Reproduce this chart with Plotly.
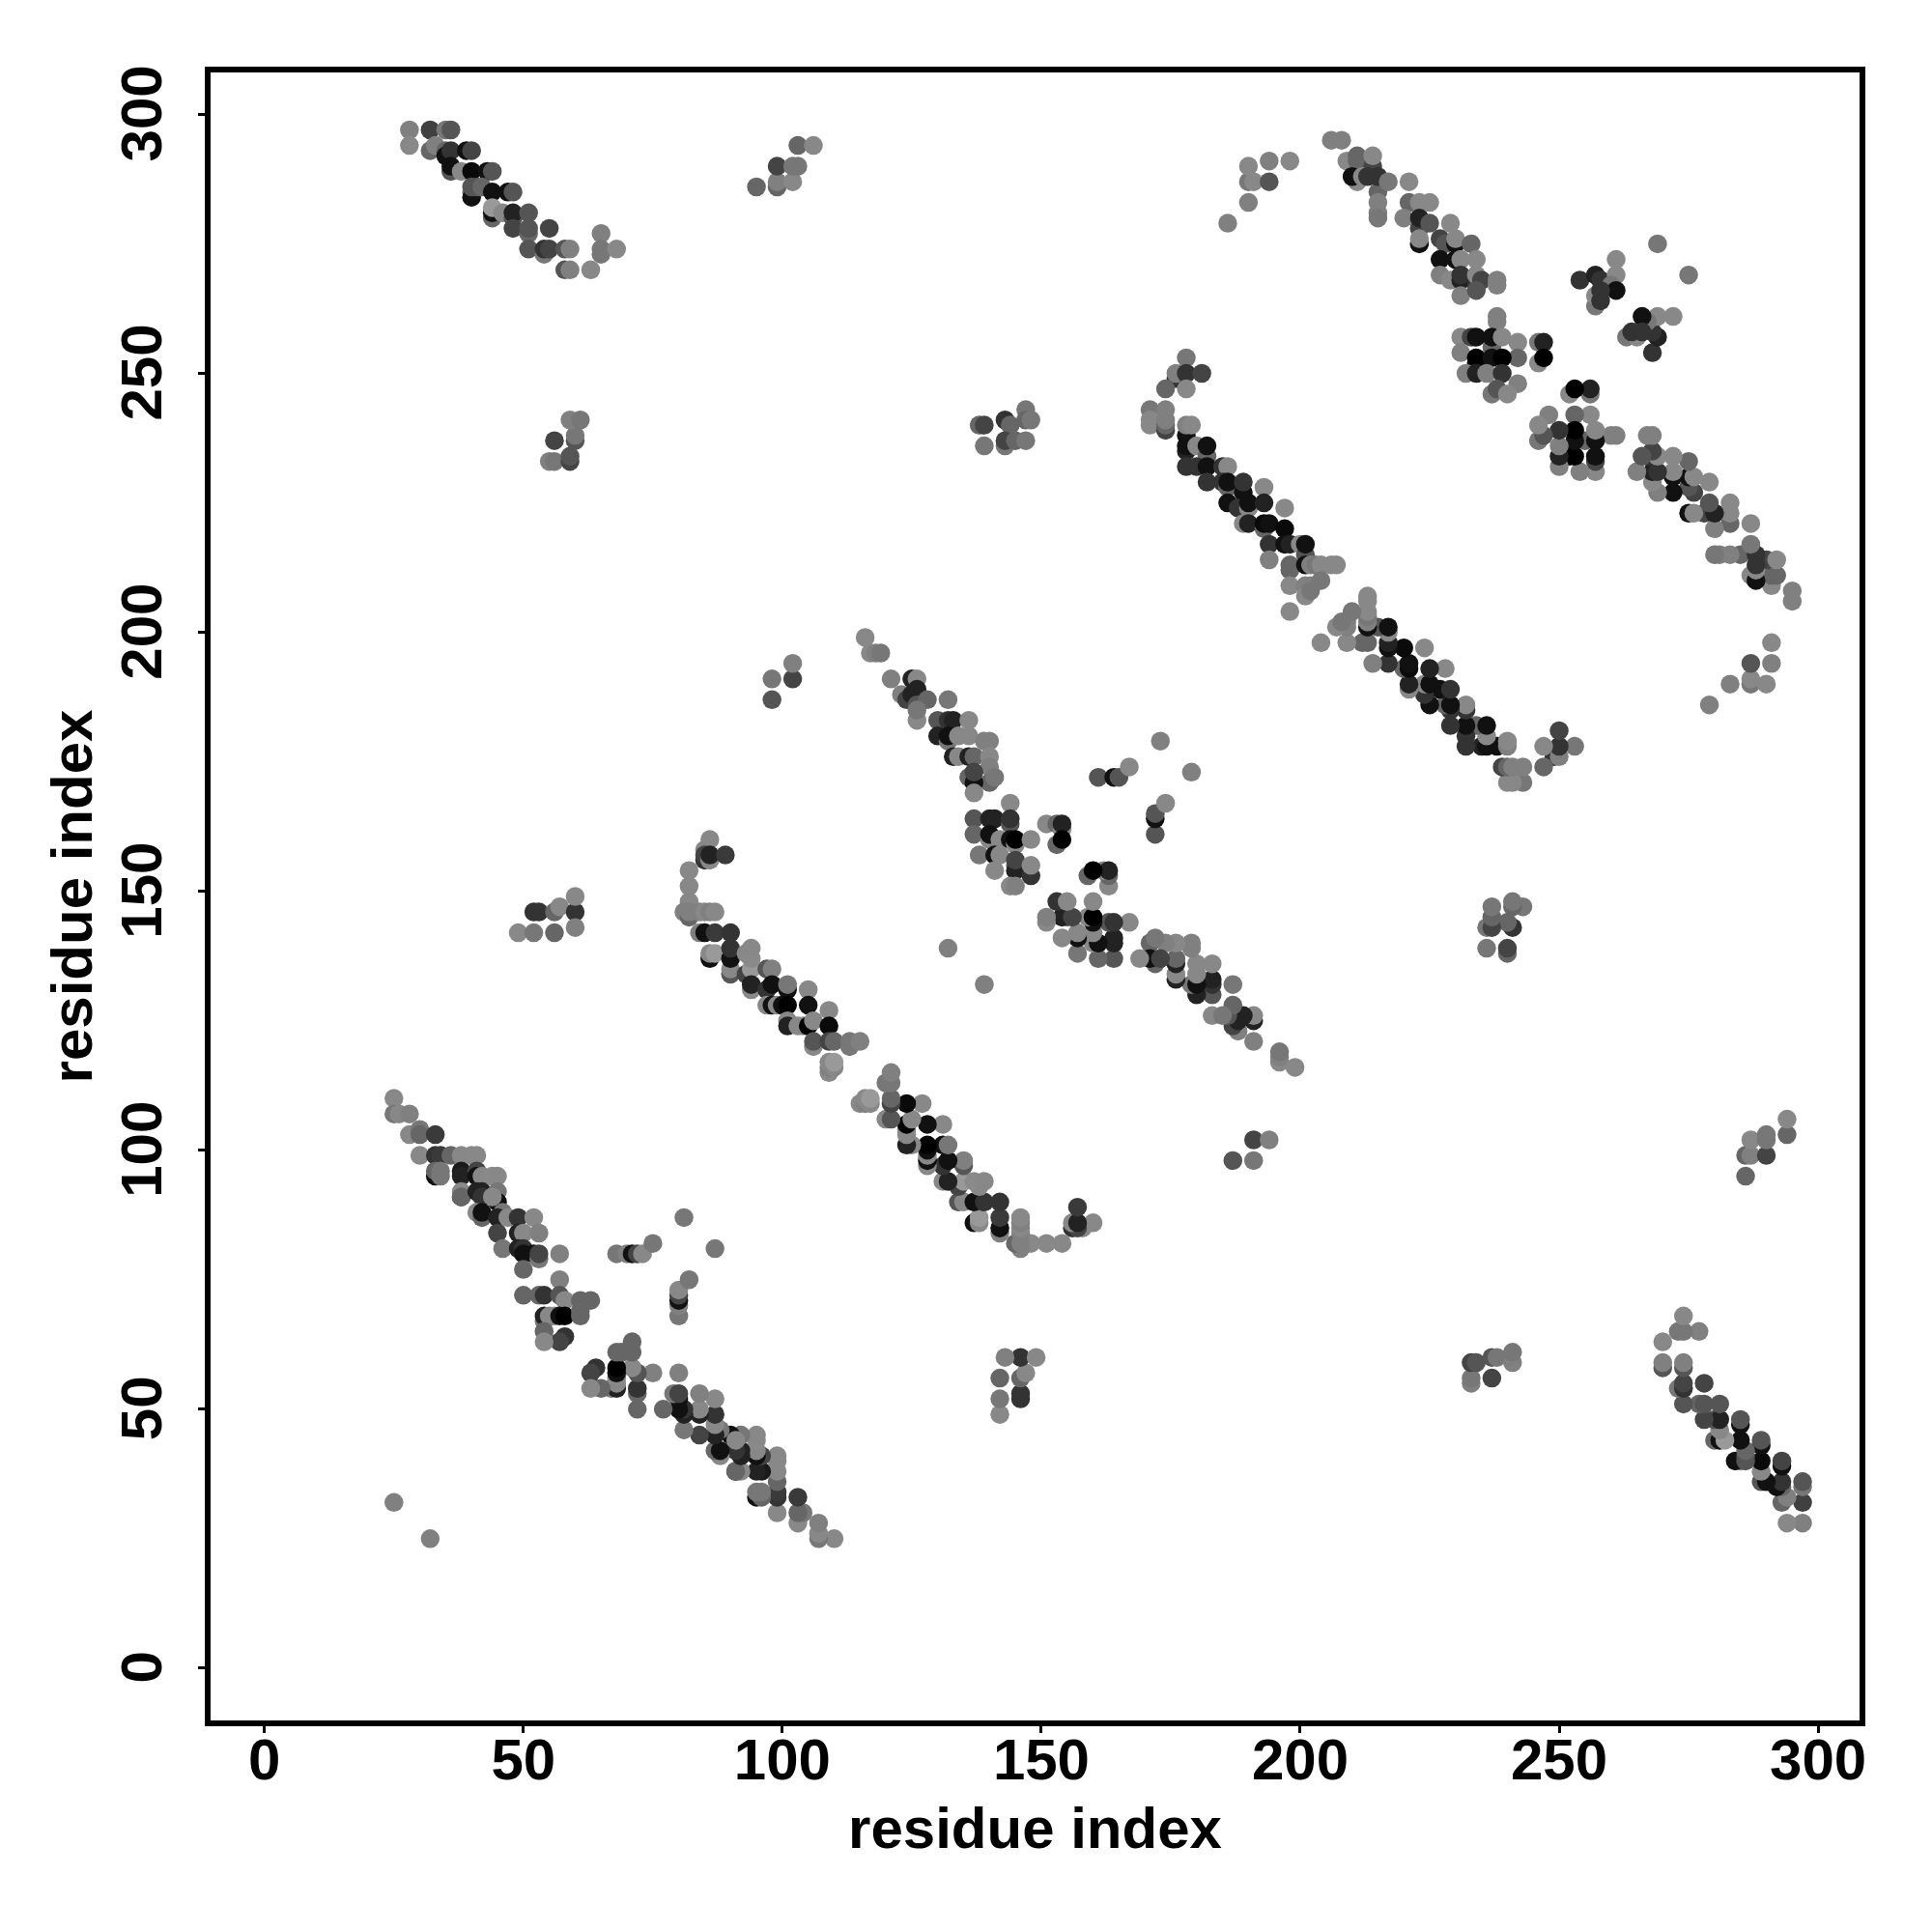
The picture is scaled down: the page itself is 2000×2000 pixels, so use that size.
import plotly.graph_objects as go

# contacts above the diagonal: (residue i, residue j, gray level); the map is symmetric
strand_a = [
    (25,32,0x80),
    (25,110,0x88),(25,107,0x77),(26,107,0x88),(28,107,0x80),(28,103,0x88),(30,104,0x77),(30,103,0x66),(33,103,0x3a),
    (30,99,0x88),(33,99,0x33),(34,99,0x3a),(36,99,0x66),(38,99,0x88),(40,99,0x88),(41,99,0x88),
    (33,95,0x11),(33,96,0x66),(34,96,0x77),(34,95,0x77),(38,96,0x1a),(38,95,0x22),(41,96,0x44),(41,95,0x11),
    (42,95,0x88),(44,95,0x8a),(45,95,0x88),(38,91,0x0a),(38,92,0x88),(38,91,0x66),(41,92,0x22),(42,92,0x22),
    (42,91,0x33),(45,92,0x77),(45,90,0x11),(44,91,0x88),(41,88,0x88),(42,87,0x66),(42,88,0x11),
    (46,88,0x77),(45,87,0x22),(47,87,0x88),(49,87,0x33),(52,87,0x88),(45,84,0x44),(49,84,0x22),(50,84,0x88),(53,84,0x80),
    (46,81,0x77),(49,81,0x22),(50,81,0x33),(50,80,0x11),(52,80,0x11),(53,79,0x77),(53,80,0x44),(57,80,0x80),(50,77,0x66),
    (68,80,0x77),(70,80,0x80),(71,80,0x11),(72,80,0x44),(73,80,0x88),(75,82,0x77),(81,87,0x77),
    (57,75,0x80),(50,72,0x66),(53,72,0x66),(54,72,0x33),(57,72,0x55),(58,71,0x88),(61,71,0x66),(63,71,0x66),
    (54,67,0x77),(54,68,0x22),(55,68,0x88),(56,68,0x88),(57,68,0x11),(58,68,0x00),(61,69,0x66),(61,68,0x66),
    (54,65,0x66),(58,64,0x33),(57,63,0x44),(54,63,0x88),
]
far_a = [
    (28,297,0x80),(28,294,0x88),(32,297,0x40),(32,293,0x66),(33,294,0x80),(35,297,0x77),(36,297,0x55),
    (35,293,0x66),(35,292,0x11),(36,293,0x33),(36,289,0x55),(36,290,0x11),(39,293,0x11),(40,293,0x44),
    (38,289,0x88),(40,289,0x0a),(43,289,0x11),(44,289,0x55),(40,285,0x77),(40,284,0x11),(40,286,0x55),(41,286,0x55),
    (42,286,0x66),(44,285,0x11),(47,285,0x11),(48,285,0x55),(44,280,0x66),(44,281,0x11),(44,282,0x99),(46,281,0x88),
    (48,280,0x55),(48,281,0x22),(51,281,0x55),(48,278,0x44),(51,277,0x66),(51,278,0x55),(55,278,0x44),
    (51,274,0x55),(54,273,0x77),(54,274,0x33),(55,274,0x44),(58,274,0x55),(59,274,0x80),
    (65,277,0x80),(65,273,0x77),(65,274,0x77),(68,274,0x88),(58,270,0x55),(59,270,0x80),(63,270,0x88),
    (95,286,0x66),(99,286,0x66),(99,287,0x80),(102,287,0x88),(99,290,0x44),(102,290,0x77),(103,290,0x77),(103,294,0x66),(106,294,0x88),
]
strand_b = [
    (86,160,0x88),(85,158,0x88),(85,156,0x33),(85,157,0x44),(86,156,0x88),(86,157,0x22),(89,157,0x3a),
    (82,154,0x88),(82,151,0x88),(82,148,0x88),(81,146,0x80),(82,145,0x66),(82,146,0x80),(84,146,0x80),(85,146,0x88),(86,146,0x80),(87,146,0x88),
    (84,142,0x80),(85,142,0x11),(87,142,0x3a),(90,142,0x33),(86,137,0x11),(86,138,0x88),(87,138,0x99),
    (90,134,0x55),(90,135,0x88),(90,137,0x11),(90,139,0x33),(93,134,0x44),(93,138,0x88),(94,135,0x99),(94,137,0x8a),(94,139,0x88),
    (97,135,0x55),(98,135,0x80),(94,131,0x88),(94,132,0x22),(97,131,0x33),(98,132,0x11),(101,131,0x11),(101,132,0x77),
    (97,128,0x88),(98,128,0x11),(99,128,0x88),(100,128,0x11),(101,128,0x00),(105,131,0x88),(105,128,0x11),
    (101,125,0x88),(101,124,0x22),(103,124,0x88),(104,124,0x88),(105,124,0x00),(106,125,0x88),(109,127,0x88),(109,124,0x0a),
    (106,120,0x88),(106,121,0x55),(109,121,0x44),(110,121,0x66),(113,120,0x77),(113,121,0x77),(115,121,0x80),
    (109,115,0x88),(109,116,0x80),(109,117,0x88),(110,116,0x88),(110,117,0x99),
    (132,139,0x80),
]
strand_c = [
    (116,199,0x88),(117,196,0x88),(118,196,0x80),(119,196,0x77),(121,191,0x80),(125,191,0x22),(126,191,0x88),
    (123,188,0x80),(124,187,0x44),(125,188,0x22),(126,189,0x22),(126,186,0x55),(128,187,0x66),(132,187,0x77),
    (126,183,0x88),(126,185,0x77),(130,183,0x55),(132,183,0x33),(133,183,0x22),(136,183,0x88),
    (130,180,0x22),(132,179,0x77),(132,180,0x11),(134,180,0x88),(136,180,0x88),
    (133,176,0x22),(134,176,0x88),(136,176,0x22),(137,176,0x66),(139,179,0x80),(140,179,0x80),
    (140,176,0x88),(140,174,0x80),(140,171,0x66),(141,172,0x77),(136,172,0x66),(137,171,0x11),(137,173,0x44),(137,169,0x88),
    (144,167,0x88),(137,164,0x55),(140,164,0x22),(141,164,0x22),(144,163,0x55),(144,164,0x33),
    (137,161,0x66),(140,160,0x88),(140,161,0x11),(142,160,0x88),(144,160,0x11),(145,159,0x88),(145,160,0x00),(148,160,0x88),
    (138,157,0x77),(141,157,0x11),(142,157,0x88),(145,155,0x66),(145,154,0x22),(145,156,0x44),
    (141,154,0x88),(148,153,0x33),(148,155,0x88),(144,151,0x88),(145,151,0x80),
    (151,163,0x88),(153,163,0x66),(154,162,0x88),(154,163,0x22),(153,159,0x66),(154,160,0x00),
    (161,172,0x55),(164,172,0x11),(165,172,0x55),(167,174,0x88),(173,179,0x80),
]
side_loops = [
    (98,187,0x55),(98,191,0x77),(102,191,0x44),(102,194,0x80),
    (49,142,0x88),(52,142,0x77),(52,146,0x33),(53,146,0x33),(56,142,0x66),(56,146,0x66),(57,147,0x88),
    (60,146,0x33),(60,149,0x88),(60,143,0x80),
    (55,233,0x80),(56,233,0x77),(56,237,0x44),(59,233,0x44),(59,234,0x55),(60,237,0x55),(60,238,0x77),(59,241,0x80),(61,241,0x77),
    (138,240,0x66),(139,240,0x44),(139,236,0x77),(143,241,0x33),(144,240,0x66),(143,236,0x77),(143,237,0x44),
    (147,243,0x77),(147,241,0x66),(148,241,0x77),(145,237,0x66),(147,237,0x77),
    (186,279,0x80),(190,283,0x80),(190,287,0x77),(191,287,0x88),(190,290,0x88),(194,291,0x80),(194,287,0x55),(198,291,0x88),
]
strand_d = [
    (178,253,0x77),(176,249,0x33),(176,250,0x80),(178,250,0x33),(181,250,0x44),(174,247,0x66),(178,247,0x88),
    (171,243,0x77),(171,241,0x88),(171,240,0x88),(174,239,0x44),(174,240,0x66),(174,241,0x80),(174,243,0x80),
    (178,238,0x11),(178,240,0x80),(179,240,0x88),(178,235,0x22),(178,236,0x11),(180,236,0x88),(182,234,0x66),(182,236,0x11),
    (178,232,0x33),(180,232,0x33),(182,232,0x11),(182,229,0x33),(185,232,0x33),(186,232,0x88),
    (185,229,0x33),(186,228,0x66),(186,229,0x11),(189,227,0x11),(189,229,0x33),(186,225,0x11),(193,228,0x88),
    (188,224,0x33),(190,224,0x88),(190,225,0x11),(193,225,0x22),(189,221,0x88),(190,221,0x22),(197,224,0x88),
    (193,220,0x66),(193,221,0x0a),(194,221,0x11),(197,220,0x0a),(194,217,0x33),(197,217,0x11),(198,217,0x22),
    (200,217,0x88),(201,215,0x55),(201,217,0x11),(194,214,0x80),(198,212,0x66),(198,213,0x66),
    (201,213,0x11),(202,213,0x80),(203,213,0x77),(204,213,0x88),(206,213,0x88),(207,213,0x88),
    (198,209,0x88),(201,209,0x80),(202,209,0x80),(204,210,0x77),(201,207,0x88),(202,208,0x77),(198,204,0x88),
]
strand_e = [
    (206,295,0x80),(208,295,0x80),(209,291,0x88),(211,291,0x66),(211,292,0x66),(214,290,0x44),(214,292,0x88),
    (211,287,0x88),(210,288,0x11),(212,288,0x88),(213,288,0x33),(215,285,0x66),(215,288,0x33),(217,287,0x77),
    (215,283,0x80),(215,281,0x80),(215,280,0x77),(221,287,0x88),(221,283,0x66),(223,283,0x88),(225,283,0x88),
    (220,280,0x80),(223,278,0x44),(223,280,0x22),(225,279,0x55),(223,275,0x11),(223,276,0x88),(229,279,0x88),
    (227,276,0x44),(228,275,0x55),(230,275,0x11),(230,276,0x88),(233,275,0x66),(227,272,0x11),(230,272,0x11),(231,272,0x88),(234,272,0x88),
    (227,269,0x80),(229,268,0x88),(231,268,0x22),(231,269,0x33),(234,267,0x33),(234,269,0x88),(235,268,0x44),
    (238,268,0x80),(238,267,0x80),(231,265,0x80),(234,266,0x55),(238,261,0x80),(238,260,0x80),
    (231,257,0x88),(231,254,0x80),(233,257,0x44),(234,257,0x11),(234,252,0x11),(234,253,0x00),
    (237,255,0x66),(237,257,0x11),(239,257,0x88),(242,256,0x88),(242,253,0x66),(246,256,0x77),(247,256,0x22),
    (246,252,0x88),(247,253,0x00),(237,253,0x11),(239,253,0x00),
    (232,250,0x80),(234,250,0x22),(236,250,0x80),(239,250,0x33),(242,248,0x80),(237,246,0x77),(238,247,0x55),(240,246,0x88),
    (254,268,0x33),(257,269,0x22),(258,268,0x33),(261,272,0x88),(261,269,0x88),(260,267,0x77),(261,266,0x11),
    (257,263,0x77),(257,265,0x88),(258,264,0x33),(258,266,0x33),(269,275,0x77),
]

contacts = strand_a + far_a + strand_b + strand_c + side_loops + strand_d + strand_e
contacts = contacts + [(j, i, g) for i, j, g in contacts]

res_x = [c[0] for c in contacts]
res_y = [c[1] for c in contacts]
gray = [f"rgb({c[2]},{c[2]},{c[2]})" for c in contacts]
tick_vals = [0, 50, 100, 150, 200, 250, 300]
axis_title = "residue index"

FONT = "Liberation Sans, Arial, sans-serif"
fig = go.Figure(go.Scatter(x=res_x, y=res_y, mode="markers",
                           marker=dict(size=19.5, color=gray, line=dict(width=0)),
                           hoverinfo="skip"))
common = dict(tickmode="array", tickvals=tick_vals, ticktext=[str(t) for t in tick_vals],
              ticks="outside", ticklen=7, tickwidth=3, tickcolor="black",
              showline=True, linewidth=6, linecolor="black", mirror=True,
              showgrid=False, zeroline=False, automargin=False,
              tickfont=dict(family=FONT, size=60, color="black", weight="bold"))
fig.update_xaxes(range=[-10.4, 308.0], ticklabelstandoff=-24,
                 title=dict(text=f"<b>{axis_title}</b>", standoff=19,
                            font=dict(family=FONT, size=60, color="black")), **common)
fig.update_yaxes(range=[-10.1, 308.1], tickangle=-90, ticklabelstandoff=14, ticklabelshift=8,
                 title=dict(text=f"<b>{axis_title}</b>", standoff=0,
                            font=dict(family=FONT, size=60, color="black")), **common)
fig.update_layout(width=2000, height=2000, plot_bgcolor="white", paper_bgcolor="white",
                  showlegend=False, margin=dict(l=218, r=75, t=75, b=219, autoexpand=False))
fig.write_html("out.html", config={"displayModeBar": False},
               post_script="document.body.style.margin='0';")
